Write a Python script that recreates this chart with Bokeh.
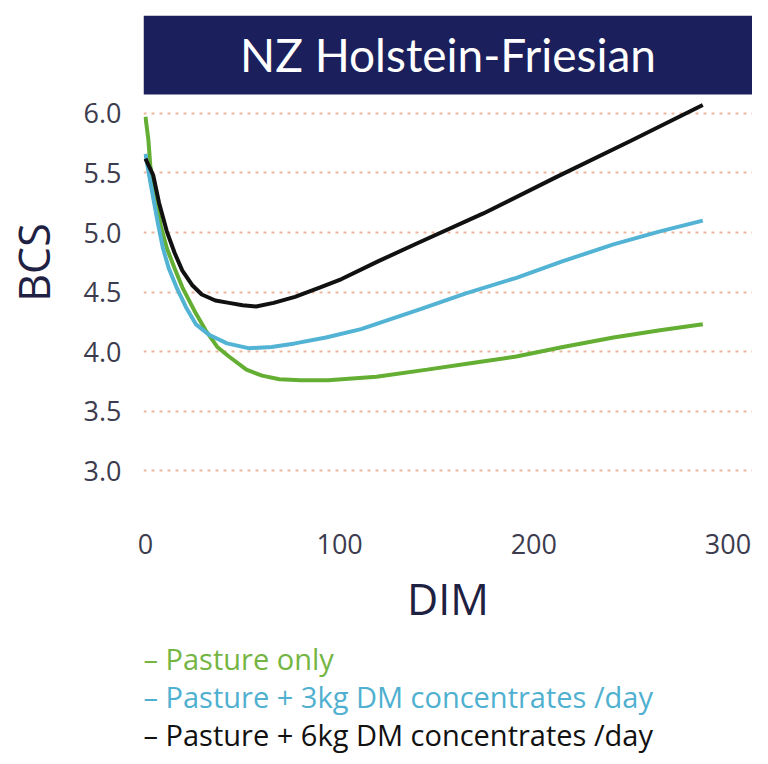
from bokeh.plotting import figure
from bokeh.layouts import column
from bokeh.models import FixedTicker, PrintfTickFormatter, BoxAnnotation, Label
from bokeh.embed import file_html
from bokeh.resources import INLINE

# ---- data ----
dim_pasture = [0, 1.5, 2.5, 5, 8, 11, 15, 19, 26, 31, 37, 43, 52, 60, 69, 80, 94,
               119, 145, 170, 191, 215, 241, 265, 287]
bcs_pasture = [5.97, 5.78, 5.56, 5.30, 5.05, 4.87, 4.70, 4.54, 4.32, 4.18, 4.04, 3.96,
               3.85, 3.80, 3.77, 3.76, 3.76, 3.79, 3.85, 3.91, 3.96, 4.04, 4.12, 4.18, 4.23]

dim_3kg = [0, 2, 4, 6.5, 9, 12, 16, 21, 26, 33, 42, 53, 65, 77, 93, 111, 142,
           165, 191, 215, 241, 265, 287]
bcs_3kg = [5.66, 5.47, 5.29, 5.07, 4.87, 4.70, 4.54, 4.37, 4.23, 4.14, 4.07, 4.03,
           4.04, 4.07, 4.12, 4.19, 4.36, 4.49, 4.62, 4.76, 4.90, 5.01, 5.10]

dim_6kg = [0, 4, 7, 11, 15, 19, 24, 29, 36, 43, 50, 57, 66, 77, 90, 101, 120,
           140, 174, 211, 250, 287]
bcs_6kg = [5.62, 5.48, 5.25, 5.01, 4.83, 4.68, 4.56, 4.48, 4.43, 4.41, 4.39, 4.38,
           4.41, 4.46, 4.54, 4.61, 4.76, 4.91, 5.16, 5.46, 5.77, 6.07]

x_ticks = [0, 100, 200, 300]
y_ticks = [3.0, 3.5, 4.0, 4.5, 5.0, 5.5, 6.0]

title_text = "NZ Holstein-Friesian"
legend_labels = ["– Pasture only",
                 "– Pasture + 3kg DM concentrates /day",
                 "– Pasture + 6kg DM concentrates /day"]

GREEN = "#64af33"
BLUE = "#52b3d4"
BLACK = "#111111"
NAVY = "#1b1f5c"
GRID = "#eab79e"
TICK = "#3c3c4e"
AXLAB = "#1f2142"

X0, X1 = -1.0, 312.6
Y0, Y1 = 2.677, 6.82

W = 752
H1 = 630
H2 = 126
LEFT = 135

p = figure(width=W, height=H1, x_range=(X0, X1), y_range=(Y0, Y1),
           output_backend="svg", toolbar_location=None,
           min_border_left=LEFT, min_border_right=0, min_border_top=15,
           min_border_bottom=H1 - 15 - 500)
p.outline_line_color = None
p.background_fill_color = "white"

# title bar spanning the frame width
p.add_layout(BoxAnnotation(bottom=6.157, fill_color=NAVY, fill_alpha=1.0,
                           line_color=None, level="underlay"))
p.add_layout(Label(x=(X0 + X1) / 2, y=6.489, text=title_text, text_align="center",
                   text_baseline="middle", text_color="white",
                   text_font="Lato", text_font_size="46px"))

# axes
p.xaxis.ticker = FixedTicker(ticks=x_ticks)
p.yaxis.ticker = FixedTicker(ticks=y_ticks)
p.yaxis.formatter = PrintfTickFormatter(format="%.1f")
for ax in (p.xaxis[0], p.yaxis[0]):
    ax.axis_line_color = None
    ax.major_tick_line_color = None
    ax.minor_tick_line_color = None
    ax.major_label_text_font = "Open Sans"
    ax.major_label_text_font_size = "27px"
    ax.major_label_text_color = TICK
    ax.axis_label_text_font = "Open Sans"
    ax.axis_label_text_font_size = "43px"
    ax.axis_label_text_font_style = "normal"
    ax.axis_label_text_color = AXLAB
p.xaxis.axis_label = "DIM"
p.yaxis.axis_label = "BCS"
p.xaxis.major_label_standoff = 18
p.xaxis.axis_label_standoff = 12
p.yaxis.major_label_standoff = 16
p.yaxis.axis_label_standoff = 18

p.xgrid.grid_line_color = None
p.ygrid.ticker = FixedTicker(ticks=y_ticks)
p.ygrid.grid_line_color = GRID
p.ygrid.grid_line_width = 2
p.ygrid.grid_line_dash = "3 5"

# series
p.line(dim_pasture, bcs_pasture, line_color=GREEN, line_width=4)
p.line(dim_3kg, bcs_3kg, line_color=BLUE, line_width=4)
p.line(dim_6kg, bcs_6kg, line_color=BLACK, line_width=4)

# legend area: a second, axis-less figure holding coloured text lines
p2 = figure(width=W, height=H2, x_range=(X0, X1), y_range=(0, H2),
            output_backend="svg", toolbar_location=None,
            x_axis_type=None, y_axis_type=None,
            min_border_left=LEFT, min_border_right=0, min_border_top=0, min_border_bottom=0)
p2.outline_line_color = None
p2.grid.visible = False

legend_colors = ["#74b543", "#4fb0d0", BLACK]
legend_y = [H2 - 28, H2 - 66, H2 - 104]
for txt, col, yy in zip(legend_labels, legend_colors, legend_y):
    p2.add_layout(Label(x=X0, y=yy, text=txt, text_align="left",
                        text_baseline="middle", text_color=col,
                        text_font="Open Sans", text_font_size="29px"))

layout = column(p, p2, spacing=0)
open("out.html", "w").write(file_html(layout, INLINE))
